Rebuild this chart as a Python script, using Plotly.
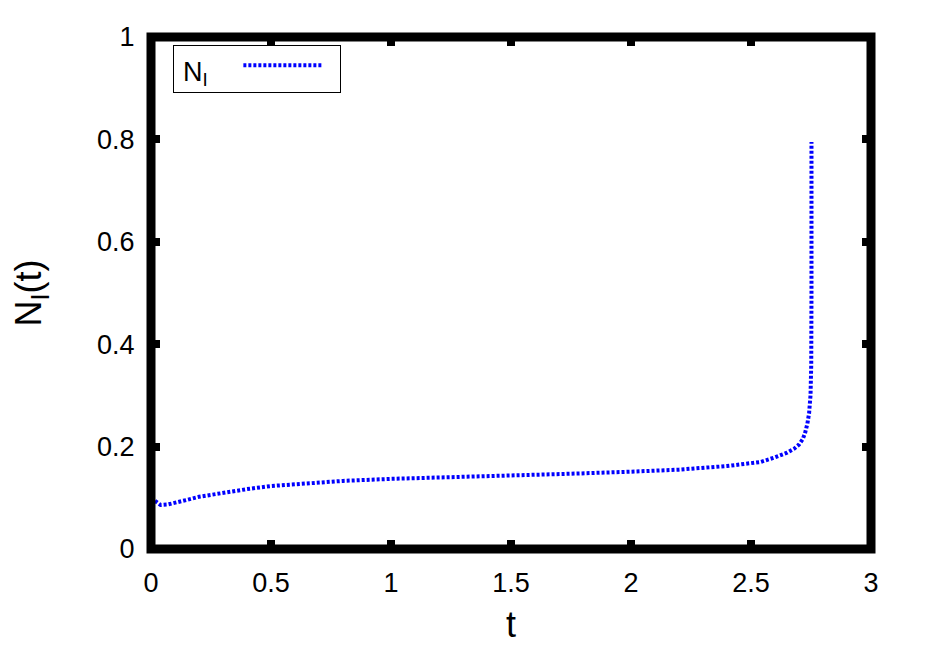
import plotly.graph_objects as go

t = [0, 0.018, 0.04, 0.07, 0.1, 0.15, 0.2, 0.3, 0.4, 0.5, 0.6, 0.7, 0.8, 1.0, 1.25,
     1.5, 1.75, 2.0, 2.2, 2.4, 2.54, 2.6, 2.65, 2.68, 2.7, 2.715, 2.725, 2.735,
     2.742, 2.748, 2.751, 2.752, 2.752]
n_i = [0.100, 0.094, 0.086, 0.087, 0.091, 0.096, 0.102, 0.110, 0.117, 0.123, 0.127,
       0.130, 0.133, 0.137, 0.140, 0.143, 0.147, 0.151, 0.155, 0.162, 0.170, 0.179,
       0.188, 0.196, 0.204, 0.214, 0.226, 0.245, 0.265, 0.300, 0.36, 0.5, 0.795]

x_ticks = [0, 0.5, 1, 1.5, 2, 2.5, 3]
x_labels = ["0", "0.5", "1", "1.5", "2", "2.5", "3"]
y_ticks = [0, 0.2, 0.4, 0.6, 0.8, 1]
y_labels = ["0", "0.2", "0.4", "0.6", "0.8", "1"]

FONT = "Liberation Sans, Arial, sans-serif"

fig = go.Figure()
fig.add_scatter(x=t, y=n_i, mode="lines", name=" ",
                line=dict(color="#0000ff", width=4, dash="3px,2px"))

ax = dict(showline=True, linecolor="black", linewidth=1, mirror="ticks",
          ticks="inside", tickcolor="black", tickwidth=8, ticklen=9,
          showgrid=False, zeroline=False, automargin=False,
          tickfont=dict(family=FONT, size=27, color="black"))

fig.update_xaxes(**ax, range=[0, 3], tickvals=x_ticks, ticktext=x_labels,
                 ticklabelstandoff=10,
                 title=dict(text="t", font=dict(family=FONT, size=36, color="black"), standoff=14))
fig.update_yaxes(**ax, range=[0, 1], tickvals=y_ticks, ticktext=y_labels,
                 ticklabelstandoff=10,
                 title=dict(text="N<sub>I</sub>(t)", font=dict(family=FONT, size=36, color="black"),
                            standoff=62))

# heavy frame centred on the plot edges (like the original border)
fig.add_shape(type="rect", xref="paper", yref="paper", x0=0, x1=1, y0=0, y1=1,
              line=dict(color="black", width=9), layer="above")

# the page body adds 8px around the figure, so the figure is sized to fit the window
fig.update_layout(
    width=918, height=641,
    margin=dict(l=143, r=55, t=29, b=100),
    plot_bgcolor="white", paper_bgcolor="white",
    showlegend=True,
    legend=dict(x=0.03, y=0.985, xanchor="left", yanchor="top",
                bordercolor="black", borderwidth=1, bgcolor="white",
                title=dict(text="&nbsp;N<sub>I</sub>&nbsp;&nbsp;&nbsp;", side="left",
                           font=dict(family=FONT, size=27, color="black")),
                font=dict(family=FONT, size=20, color="black"),
                itemwidth=80),
)

fig.write_html("out.html")
